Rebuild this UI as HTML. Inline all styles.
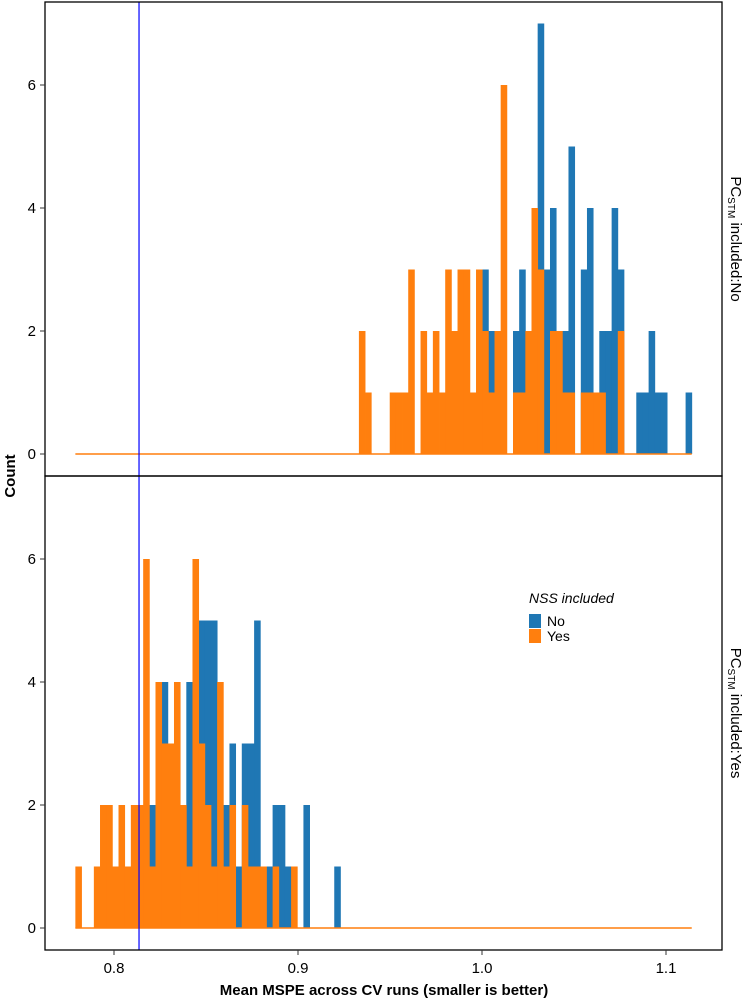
<!DOCTYPE html>
<html><head><meta charset="utf-8"><style>
body{margin:0;background:#fff}
svg{display:block;font-family:"Liberation Sans",Arial,sans-serif}
</style></head><body>
<svg id="chart" width="750" height="1003" viewBox="0 0 750 1003" xmlns="http://www.w3.org/2000/svg">
<g id="marks"></g>
<g><rect x="45" y="2" width="677" height="474" fill="none" stroke="#000" stroke-width="1.3"/></g>
<g><rect x="45" y="476" width="677" height="474" fill="none" stroke="#000" stroke-width="1.3"/></g>
<g id="axes"></g>
<text transform="translate(15,476) rotate(-90)" text-anchor="middle" font-size="15" font-weight="bold">Count</text>
<text x="384" y="995" text-anchor="middle" font-size="15" font-weight="bold">Mean MSPE across CV runs (smaller is better)</text>
<text transform="translate(731,239) rotate(90)" text-anchor="middle" font-size="15">PC<tspan font-size="10" dy="3">STM</tspan><tspan dy="-3"> included:No</tspan></text>
<text transform="translate(731,713) rotate(90)" text-anchor="middle" font-size="15">PC<tspan font-size="10" dy="3">STM</tspan><tspan dy="-3"> included:Yes</tspan></text>
<g>
<text x="529" y="603" font-size="14" font-style="italic">NSS included</text>
<rect x="529" y="614" width="12" height="14" fill="#1f77b4"/>
<text x="547" y="626" font-size="14">No</text>
<rect x="529" y="629" width="12" height="14" fill="#ff7f0e"/>
<text x="547" y="641" font-size="14">Yes</text>
</g>
</svg>
<script>
const binStart = 0.779;
const binEnd = 1.114;
const refLine = 0.8136;
const xTicks = [0.8, 0.9, 1.0, 1.1];
const xTickLabels = ["0.8", "0.9", "1.0", "1.1"];
const yTicks = [0, 2, 4, 6];
const topYes = [0,0,0,0,0,0,0,0,0,0, 0,0,0,0,0,0,0,0,0,0, 0,0,0,0,0,0,0,0,0,0, 0,0,0,0,0,0,0,0,0,0,
 0,0,0,0,0,0,2,1,0,0, 0,1,1,1,3,0,2,1,2,1, 3,2,3,3,1,3,2,1,2,6, 0,1,1,2,4,3,0,2,2,1, 1,0,1,1,1,1,0,0,2,0, 0,0,0,0,0,0,0,0,0,0];
const topNo = [0,0,0,0,0,0,0,0,0,0, 0,0,0,0,0,0,0,0,0,0, 0,0,0,0,0,0,0,0,0,0, 0,0,0,0,0,0,0,0,0,0,
 0,0,0,0,0,0,0,0,0,0, 0,0,0,0,0,0,0,0,0,0, 0,0,0,0,0,0,3,2,0,0, 0,2,3,2,0,7,3,4,2,2, 5,0,3,4,1,2,2,4,3,0, 0,1,1,2,1,1,0,0,0,1];
const botYes = [1,0,0,1,2,2,1,2,1,2, 2,6,1,4,3,3,4,2,1,6, 3,2,1,4,1,2,0,2,1,1, 1,0,1,0,0,1,0,0,0,0,
 0,0,0,0,0,0,0,0,0,0, 0,0,0,0,0,0,0,0,0,0, 0,0,0,0,0,0,0,0,0,0, 0,0,0,0,0,0,0,0,0,0, 0,0,0,0,0,0,0,0,0,0, 0,0,0,0,0,0,0,0,0,0];
const botNo = [0,0,0,0,0,0,0,0,0,0, 0,0,2,0,4,0,0,0,4,0, 5,5,5,0,2,3,1,3,3,5, 1,1,2,2,1,0,0,2,0,0,
 0,0,1,0,0,0,0,0,0,0, 0,0,0,0,0,0,0,0,0,0, 0,0,0,0,0,0,0,0,0,0, 0,0,0,0,0,0,0,0,0,0, 0,0,0,0,0,0,0,0,0,0, 0,0,0,0,0,0,0,0,0,0];

const NS = "http://www.w3.org/2000/svg";
const xs = v => 114 + (v - 0.8) * 1840;
const yTop = c => 454 - 61.5 * c;
const yBot = c => 928 - 61.5 * c;
const marks = document.getElementById('marks');
const axes = document.getElementById('axes');
const nb = topYes.length;
const w = (binEnd - binStart) / nb;

function mk(tag, attrs, parent) {
  const e = document.createElementNS(NS, tag);
  for (const k in attrs) e.setAttribute(k, attrs[k]);
  parent.appendChild(e);
  return e;
}
function drawSeries(arr, ys, color, name) {
  arr.forEach((c, i) => {
    if (c <= 0) return;
    const x0 = xs(binStart + i * w), x1 = xs(binStart + (i + 1) * w);
    const r = mk('rect', {x: x0, y: ys(c), width: x1 - x0 + 0.4, height: ys(0) - ys(c), fill: color}, marks);
    
    
  });
}
function zeroLine(ys, name) {
  const l = mk('line', {x1: xs(binStart), x2: xs(binEnd), y1: ys(0), y2: ys(0), stroke: '#ff7f0e', 'stroke-width': 1.5}, marks);
  
  
}
drawSeries(topNo, yTop, '#1f77b4', 'top-no');
drawSeries(topYes, yTop, '#ff7f0e', 'top-yes');
zeroLine(yTop, 'top-zero-line');
drawSeries(botNo, yBot, '#1f77b4', 'bottom-no');
drawSeries(botYes, yBot, '#ff7f0e', 'bottom-yes');
zeroLine(yBot, 'bottom-zero-line');

const ref = mk('line', {x1: xs(refLine), x2: xs(refLine), y1: 2, y2: 950, stroke: '#0000ff', 'stroke-width': 1.2}, marks);



[yTop, yBot].forEach((ys, p) => {
  yTicks.forEach(t => {
    const tk = mk('line', {x1: 40, x2: 45, y1: ys(t), y2: ys(t), stroke: '#333', 'stroke-width': 1}, axes);
    
    
    const lb = mk('text', {x: 36, y: ys(t) + 5, 'text-anchor': 'end', 'font-size': 15}, axes);
    
    
    lb.textContent = String(t);
  });
});
xTicks.forEach((t, i) => {
  const tk = mk('line', {x1: xs(t), x2: xs(t), y1: 950, y2: 955, stroke: '#333', 'stroke-width': 1}, axes);
  
  
  const lb = mk('text', {x: xs(t), y: 973, 'text-anchor': 'middle', 'font-size': 15}, axes);
  
  
  lb.textContent = xTickLabels[i];
});
</script>
</body></html>
